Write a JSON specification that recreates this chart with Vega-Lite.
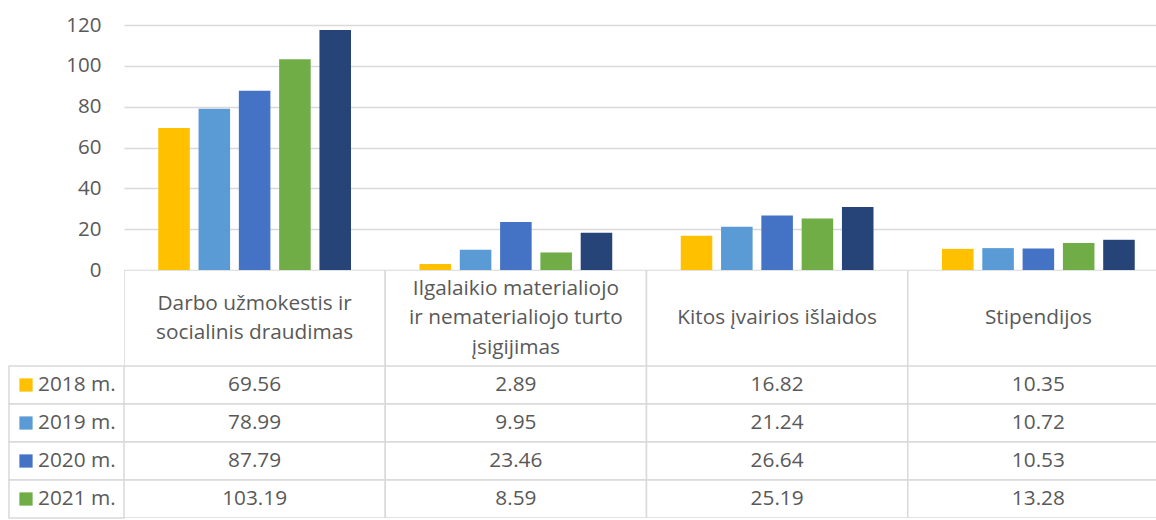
{
  "$schema": "https://vega.github.io/schema/vega-lite/v6.json",
  "padding": {"left": 8, "top": 15, "right": 0, "bottom": 0},
  "autosize": {"type": "pad"},
  "background": "white",
  "datasets": {
    "main": [
      {"category": "Darbo užmokestis ir socialinis draudimas", "year": "2018 m.", "value": 69.56},
      {"category": "Darbo užmokestis ir socialinis draudimas", "year": "2019 m.", "value": 78.99},
      {"category": "Darbo užmokestis ir socialinis draudimas", "year": "2020 m.", "value": 87.79},
      {"category": "Darbo užmokestis ir socialinis draudimas", "year": "2021 m.", "value": 103.19},
      {"category": "Darbo užmokestis ir socialinis draudimas", "year": "2022 m.", "value": 117.5},
      {"category": "Ilgalaikio materialiojo ir nematerialiojo turto įsigijimas", "year": "2018 m.", "value": 2.89},
      {"category": "Ilgalaikio materialiojo ir nematerialiojo turto įsigijimas", "year": "2019 m.", "value": 9.95},
      {"category": "Ilgalaikio materialiojo ir nematerialiojo turto įsigijimas", "year": "2020 m.", "value": 23.46},
      {"category": "Ilgalaikio materialiojo ir nematerialiojo turto įsigijimas", "year": "2021 m.", "value": 8.59},
      {"category": "Ilgalaikio materialiojo ir nematerialiojo turto įsigijimas", "year": "2022 m.", "value": 18.2},
      {"category": "Kitos įvairios išlaidos", "year": "2018 m.", "value": 16.82},
      {"category": "Kitos įvairios išlaidos", "year": "2019 m.", "value": 21.24},
      {"category": "Kitos įvairios išlaidos", "year": "2020 m.", "value": 26.64},
      {"category": "Kitos įvairios išlaidos", "year": "2021 m.", "value": 25.19},
      {"category": "Kitos įvairios išlaidos", "year": "2022 m.", "value": 30.8},
      {"category": "Stipendijos", "year": "2018 m.", "value": 10.35},
      {"category": "Stipendijos", "year": "2019 m.", "value": 10.72},
      {"category": "Stipendijos", "year": "2020 m.", "value": 10.53},
      {"category": "Stipendijos", "year": "2021 m.", "value": 13.28},
      {"category": "Stipendijos", "year": "2022 m.", "value": 14.8}
    ],
    "headers": [
      {"category": "Darbo užmokestis ir socialinis draudimas", "label": "Darbo užmokestis ir\nsocialinis draudimas"},
      {"category": "Ilgalaikio materialiojo ir nematerialiojo turto įsigijimas", "label": "Ilgalaikio materialiojo\nir nematerialiojo turto\nįsigijimas"},
      {"category": "Kitos įvairios išlaidos", "label": "Kitos įvairios išlaidos"},
      {"category": "Stipendijos", "label": "Stipendijos"}
    ]
  },
  "columns": 2,
  "spacing": 0,
  "bounds": "flush",
  "concat": [
    {"data": {"values": []}, "mark": "point", "width": 115, "height": 245, "view": {"stroke": null}},
    {
      "data": {"name": "main"},
      "width": 1033,
      "height": 245,
      "view": {"stroke": null},
      "mark": {"type": "bar"},
      "encoding": {
        "x": {"field": "category", "type": "nominal", "scale": {"domain": ["Darbo užmokestis ir socialinis draudimas", "Ilgalaikio materialiojo ir nematerialiojo turto įsigijimas", "Kitos įvairios išlaidos", "Stipendijos"], "range": [0, 1045], "paddingInner": 0, "paddingOuter": 0}, "axis": null},
        "xOffset": {"field": "year", "type": "nominal", "scale": {"domain": ["2018 m.", "2019 m.", "2020 m.", "2021 m.", "2022 m."], "paddingInner": 0.217, "paddingOuter": 0.85}},
        "y": {"field": "value", "type": "quantitative", "scale": {"domain": [0, 120], "nice": false}, "axis": {"values": [0, 20, 40, 60, 80, 100, 120], "title": null}},
        "color": {"field": "year", "type": "nominal", "scale": {"domain": ["2018 m.", "2019 m.", "2020 m.", "2021 m.", "2022 m."], "range": ["#FFC000", "#5B9BD5", "#4472C4", "#70AD47", "#264478"]}, "legend": null}
      }
    },
    {"data": {"values": []}, "mark": "point", "width": 115, "height": 96, "view": {"stroke": null}},
    {
      "data": {"name": "headers"},
      "width": 1033,
      "height": 96,
      "view": {"stroke": null},
      "encoding": {
        "x": {"field": "category", "type": "nominal", "scale": {"domain": ["Darbo užmokestis ir socialinis draudimas", "Ilgalaikio materialiojo ir nematerialiojo turto įsigijimas", "Kitos įvairios išlaidos", "Stipendijos"], "range": [0, 1045], "paddingInner": 0, "paddingOuter": 0}, "axis": null}
      },
      "layer": [
        {"mark": {"type": "rect", "fill": "white", "stroke": "#d9d9d9", "strokeWidth": 1.5, "clip": true}},
        {"transform": [{"filter": "length(split(datum.label, '\\n')) == 1"}],
         "mark": {"type": "text", "lineBreak": "\n", "lineHeight": 29, "baseline": "middle", "dy": 0}, "encoding": {"text": {"field": "label"}}},
        {"transform": [{"filter": "length(split(datum.label, '\\n')) == 2"}],
         "mark": {"type": "text", "lineBreak": "\n", "lineHeight": 29, "baseline": "middle", "dy": -14.5}, "encoding": {"text": {"field": "label"}}},
        {"transform": [{"filter": "length(split(datum.label, '\\n')) == 3"}],
         "mark": {"type": "text", "lineBreak": "\n", "lineHeight": 29.5, "baseline": "middle", "dy": -29.5}, "encoding": {"text": {"field": "label"}}}
      ]
    },
    {
      "data": {"name": "main"},
      "transform": [
        {"aggregate": [{"op": "count", "as": "n"}], "groupby": ["year"]},
        {"filter": "datum.year !== '2022 m.'"}
      ],
      "width": 115,
      "height": 152,
      "view": {"stroke": null},
      "encoding": {
        "y": {"field": "year", "type": "nominal", "scale": {"domain": ["2018 m.", "2019 m.", "2020 m.", "2021 m."], "paddingInner": 0, "paddingOuter": 0}, "axis": null}
      },
      "layer": [
        {"mark": {"type": "rect", "fill": "white", "stroke": "#d9d9d9", "strokeWidth": 1.5}},
        {"mark": {"type": "point", "shape": "square", "filled": true, "opacity": 1, "size": 175, "xOffset": -40.5},
         "encoding": {"color": {"field": "year", "type": "nominal", "scale": {"domain": ["2018 m.", "2019 m.", "2020 m.", "2021 m.", "2022 m."], "range": ["#FFC000", "#5B9BD5", "#4472C4", "#70AD47", "#264478"]}, "legend": null}}},
        {"mark": {"type": "text", "align": "left", "baseline": "middle", "dx": -28.5}, "encoding": {"text": {"field": "year"}}}
      ]
    },
    {
      "data": {"name": "main"},
      "transform": [{"filter": "datum.year !== '2022 m.'"}],
      "width": 1033,
      "height": 152,
      "view": {"stroke": null},
      "encoding": {
        "x": {"field": "category", "type": "nominal", "scale": {"domain": ["Darbo užmokestis ir socialinis draudimas", "Ilgalaikio materialiojo ir nematerialiojo turto įsigijimas", "Kitos įvairios išlaidos", "Stipendijos"], "range": [0, 1045], "paddingInner": 0, "paddingOuter": 0}, "axis": null},
        "y": {"field": "year", "type": "nominal", "scale": {"domain": ["2018 m.", "2019 m.", "2020 m.", "2021 m."], "paddingInner": 0, "paddingOuter": 0}, "axis": null}
      },
      "layer": [
        {"mark": {"type": "rect", "fill": "white", "stroke": "#d9d9d9", "strokeWidth": 1.5, "clip": true}},
        {"mark": {"type": "text", "baseline": "middle"}, "encoding": {"text": {"field": "value", "type": "quantitative", "format": ".2f"}}}
      ]
    }
  ],
  "config": {
    "font": "Open Sans",
    "view": {"stroke": null},
    "axis": {"labelFont": "Open Sans", "labelFontSize": 20.5, "labelColor": "#595959", "domain": false, "ticks": false, "gridColor": "#d9d9d9", "gridWidth": 1.5},
    "axisY": {"labelPadding": 23},
    "text": {"font": "Open Sans", "fontSize": 20.8, "color": "#595959"}
  }
}
